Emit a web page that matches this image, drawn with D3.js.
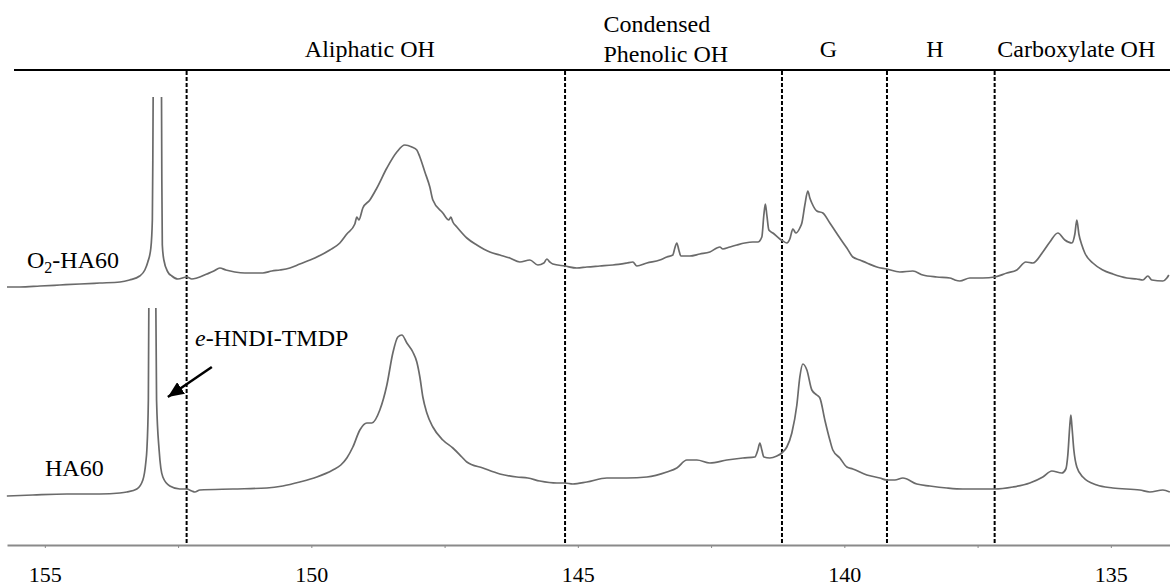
<!DOCTYPE html>
<html>
<head>
<meta charset="utf-8">
<script src="https://cdn.jsdelivr.net/npm/d3@7"></script>
<style>
  body { margin: 0; background: #fff; }
  svg text { font-family: "Liberation Serif", "Times New Roman", Times, "DejaVu Serif", serif; fill: #000; }
</style>
</head>
<body>
<div id="svgholder"></div>
<script>
// axis ticks (ppm)
const ppmTicks = [155, 152.5, 150, 147.5, 145, 142.5, 140, 137.5, 135];
const ppmLabels = ["155", "", "150", "", "145", "", "140", "", "135"];

// region borders (dashed lines) and names
const regionBounds = [152.34, 145.24, 141.17, 139.2, 137.18];
const regionNames = [["Aliphatic OH"], ["Condensed", "Phenolic OH"], ["G"], ["H"], ["Carboxylate OH"]];

// O2-HA60 spectrum [ppm, intensity]; null = clipped peak top
const o2ha60 = [
  [155.71,0.3],[155.47,0.3],[155.09,0.4],[154.72,0.5],[154.34,0.6],[153.97,0.7],[153.59,0.8],[153.41,1.0],
  [153.22,1.4],[153.124,2.0],[153.068,2.8],[153.011,4.2],[152.983,7.0],[152.974,13.0],[152.968,19.3],
  [152.89,null],
  [152.811,19.3],[152.805,11.0],[152.796,4.5],[152.767,3.0],[152.692,1.8],[152.617,1.4],[152.505,1.1],
  [152.336,1.3],[152.242,1.1],[152.148,1.2],[151.961,1.6],[151.829,1.9],[151.717,2.2],[151.604,2.0],
  [151.435,1.8],[151.248,1.7],[151.060,1.7],[150.910,1.7],[150.741,1.9],[150.591,2.0],[150.403,2.2],
  [150.216,2.6],[149.934,3.2],[149.653,4.0],[149.465,4.7],[149.334,5.6],[149.184,6.6],[149.146,7.3],
  [149.109,7.0],[149.034,8.2],[148.902,9.0],[148.771,10.2],[148.583,12.2],[148.396,13.8],[148.246,14.5],
  [148.114,14.3],[148.021,14.0],[147.964,13.3],[147.870,11.8],[147.777,10.3],[147.720,9.0],[147.533,7.7],
  [147.420,7.0],[147.383,7.3],[147.345,6.8],[147.270,6.3],[147.083,5.2],[146.895,4.5],[146.651,3.8],
  [146.463,3.5],[146.276,3.2],[146.088,2.8],[145.900,3.0],[145.750,2.5],[145.638,2.7],[145.582,3.1],
  [145.525,2.8],[145.469,2.6],[145.244,2.4],[145.019,2.2],[144.831,2.3],[144.587,2.4],[144.343,2.5],
  [144.081,2.7],[143.968,2.8],[143.893,2.4],[143.705,2.7],[143.462,3.0],[143.330,3.3],[143.218,3.5],
  [143.180,4.2],[143.143,4.7],[143.105,4.0],[143.068,3.4],[142.899,3.4],[142.711,3.6],[142.523,3.8],
  [142.336,4.3],[142.280,4.1],[142.148,4.3],[142.017,4.5],[141.867,4.7],[141.717,4.8],[141.623,4.8],
  [141.548,5.3],[141.510,7.5],[141.482,8.6],[141.454,7.5],[141.416,6.0],[141.341,5.7],[141.210,5.1],
  [141.154,4.9],[141.079,4.7],[141.023,5.1],[140.966,6.1],[140.910,5.7],[140.835,6.2],[140.797,6.7],
  [140.741,8.5],[140.685,9.9],[140.647,9.2],[140.610,8.7],[140.516,7.9],[140.403,7.7],[140.272,6.7],
  [140.084,5.2],[139.953,4.2],[139.841,3.3],[139.709,3.0],[139.578,2.7],[139.390,2.3],[139.203,2.1],
  [138.959,1.8],[138.715,1.9],[138.527,1.5],[138.265,1.3],[138.021,1.2],[137.927,1.0],[137.833,0.9],
  [137.645,1.2],[137.402,1.2],[137.176,1.3],[136.951,1.7],[136.764,2.0],[136.595,2.8],[136.463,2.7],
  [136.276,3.8],[136.144,4.8],[135.994,5.7],[135.863,5.0],[135.732,4.7],[135.675,5.6],[135.638,7.0],
  [135.600,5.6],[135.544,4.5],[135.488,3.7],[135.338,2.7],[135.150,2.0],[134.962,1.6],[134.700,1.2],
  [134.512,1.1],[134.399,1.0],[134.306,1.4],[134.231,1.0],[134.024,0.9],[133.949,1.2],[133.912,1.5]
];

// HA60 spectrum [ppm, intensity]
const ha60 = [
  [155.713,0.4],[155.225,0.5],[154.587,0.6],[153.968,0.6],[153.593,0.7],[153.462,0.8],[153.274,1.1],
  [153.161,2.0],[153.105,3.8],[153.086,5.0],[153.058,10.0],[153.049,19.2],
  [152.98,null],
  [152.917,19.2],[152.904,10.0],[152.856,5.0],[152.824,3.2],[152.786,2.3],[152.655,1.4],[152.467,1.1],
  [152.336,1.1],[152.242,0.9],[152.186,0.8],[152.092,1.0],[151.473,1.1],[150.835,1.2],[150.535,1.4],
  [150.216,1.8],[149.897,2.3],[149.597,3.0],[149.447,3.5],[149.334,4.2],[149.221,5.3],[149.090,7.0],
  [148.959,7.7],[148.865,7.7],[148.715,9.0],[148.583,11.5],[148.471,14.7],[148.377,16.3],[148.302,16.5],
  [148.208,15.7],[148.096,14.8],[148.021,13.8],[147.964,12.3],[147.908,10.3],[147.833,8.7],[147.720,7.3],
  [147.533,6.0],[147.345,5.2],[147.176,4.3],[147.083,3.8],[146.782,3.2],[146.463,2.6],[146.144,2.3],
  [145.938,2.2],[145.713,1.9],[145.394,1.7],[145.244,1.7],[145.094,1.6],[144.831,1.8],[144.456,2.2],
  [144.081,2.2],[143.705,2.3],[143.330,2.8],[143.143,3.2],[142.955,4.0],[142.767,4.0],[142.523,3.7],
  [142.204,4.0],[141.904,4.2],[141.679,4.3],[141.623,5.0],[141.585,5.7],[141.548,5.0],[141.510,4.3],
  [141.398,4.2],[141.266,4.4],[141.172,4.7],[141.079,5.3],[140.985,6.7],[140.891,9.5],[140.835,12.3],
  [140.778,13.6],[140.703,13.0],[140.610,11.0],[140.516,10.5],[140.459,10.2],[140.366,8.0],[140.272,6.0],
  [140.216,5.0],[140.084,4.2],[139.953,3.3],[139.841,3.1],[139.578,2.5],[139.334,2.2],[139.203,2.0],
  [139.052,2.0],[138.902,2.2],[138.640,1.6],[138.396,1.4],[138.077,1.2],[137.777,1.1],[137.458,1.1],
  [137.176,1.1],[136.838,1.3],[136.520,1.7],[136.276,2.3],[136.107,2.9],[135.919,2.7],[135.844,3.1],
  [135.807,4.5],[135.769,7.5],[135.750,8.5],[135.732,7.5],[135.694,5.0],[135.638,3.3],[135.525,2.3],
  [135.263,1.5],[134.962,1.2],[134.456,1.0],[134.268,0.8],[134.024,1.0],[133.893,0.8]
];

// stacked offsets (intensity units)
const seriesNames = ["O2-HA60", "HA60"];
const seriesOffsets = [21, 0];

// arrow to the e-HNDI-TMDP peak, in HA60 units: [tail, head]
const arrowPts = [[151.867, 13.3], [152.692, 10.3]];

const width = 1170;
const height = 588;
const serif = "'Liberation Serif', 'Times New Roman', Times, 'DejaVu Serif', serif";

let x = d3.scaleLinear().domain([155.71, 133.89]).range([7, 1170]);
let y = d3.scaleLinear().domain([0, 42]).range([500, 80]);

let svg = d3.select("#svgholder").append("svg")
    .attr("width", width)
    .attr("height", height)
    .attr("font-family", serif);

svg.append("defs").append("marker")
    .attr("id", "head")
    .attr("markerUnits", "userSpaceOnUse")
    .attr("viewBox", "0 0 16 14")
    .attr("markerWidth", 16).attr("markerHeight", 14)
    .attr("refX", 16).attr("refY", 7)
    .attr("orient", "auto")
    .append("path").attr("d", "M0,0 L16,7 L0,14 Z").attr("fill", "#000");

// top rule
svg.append("line")
    .attr("x1", 14).attr("x2", width)
    .attr("y1", 70).attr("y2", 70)
    .attr("stroke", "#000").attr("stroke-width", 2);

// x axis
let axis = svg.append("g")
    .attr("transform", "translate(0,545)")
    .call(d3.axisBottom(x).tickValues(ppmTicks).tickSize(3).tickSizeOuter(0)
        .tickFormat((d, i) => ppmLabels[i]));
axis.attr("font-family", serif);
axis.select(".domain").attr("stroke", "#8a8a8a").attr("stroke-width", 2);
axis.selectAll(".tick line").attr("stroke", "#8a8a8a");
axis.selectAll(".tick text")
    .attr("y", 37).attr("dy", 0)
    .attr("font-size", 22);

// dashed region borders
svg.selectAll(".border").data(regionBounds).enter().append("line")
    .attr("class", "border")
    .attr("x1", d => x(d)).attr("x2", d => x(d))
    .attr("y1", 71).attr("y2", 545)
    .attr("stroke", "#000").attr("stroke-width", 2)
    .attr("stroke-dasharray", "4,2");

// region names, centred between borders
const edges = regionBounds.concat([x.domain()[1]]);
regionNames.forEach((lines, i) => {
    let cx = (x(edges[i]) + x(edges[i + 1])) / 2 - 6;
    let t = svg.append("text").attr("font-size", 24);
    if (lines.length === 1) {
        t.attr("x", cx).attr("y", 57).attr("text-anchor", "middle").text(lines[0]);
    } else {
        t.attr("x", cx - 64).attr("y", 32);
        t.append("tspan").attr("x", cx - 64).text(lines[0]);
        t.append("tspan").attr("x", cx - 64).attr("y", 62).text(lines[1]);
    }
});

// spectra
let line = d3.line()
    .defined(d => d[1] !== null)
    .x(d => x(d[0]))
    .curve(d3.curveMonotoneX);

[o2ha60, ha60].forEach((data, i) => {
    line.y(d => y(d[1] + seriesOffsets[i]));
    svg.append("path")
        .attr("d", line(data))
        .attr("fill", "none")
        .attr("stroke", "#6a6a6a")
        .attr("stroke-width", 1.7)
        .attr("stroke-linejoin", "round");
});

// series labels
let lab1 = svg.append("text").attr("x", 27).attr("y", 268).attr("font-size", 24);
lab1.append("tspan").text("O");
lab1.append("tspan").attr("font-size", 16).attr("dy", 5).text("2");
lab1.append("tspan").attr("dy", -5).text("-HA60");

svg.append("text").attr("x", 45).attr("y", 476).attr("font-size", 24).text(seriesNames[1]);

let lab3 = svg.append("text").attr("x", 195).attr("y", 346).attr("font-size", 24);
lab3.append("tspan").attr("font-style", "italic").text("e");
lab3.append("tspan").text("-HNDI-TMDP");

// arrow
svg.append("line")
    .attr("x1", x(arrowPts[0][0])).attr("y1", y(arrowPts[0][1]))
    .attr("x2", x(arrowPts[1][0])).attr("y2", y(arrowPts[1][1]))
    .attr("stroke", "#000").attr("stroke-width", 2.5)
    .attr("marker-end", "url(#head)");
</script>
</body>
</html>
